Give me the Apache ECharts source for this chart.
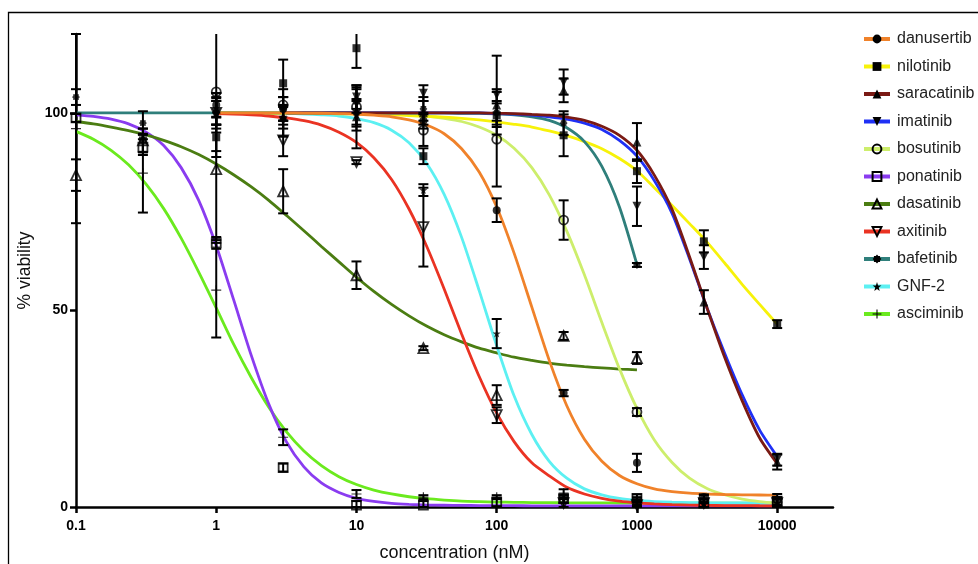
<!DOCTYPE html>
<html>
<head>
<meta charset="utf-8">
<script src="https://cdn.jsdelivr.net/npm/echarts@6/dist/echarts.min.js"></script>
<style>
  html, body { margin: 0; padding: 0; background: #fff; }
  #chart { width: 978px; height: 564px; }
</style>
</head>
<body>
<div id="chart"></div>
<script>
// Tested concentrations (nM)
const concentrations = [0.1, 0.3, 1, 3, 10, 30, 100, 300, 1000, 3000, 10000];

// Mean % viability and SD per drug (null = not tested)
const danusertib   = [null, null, 102, 101, 103, 98, 75.3, 28.9, 11.2, 2.0, 1.8];
const danusertibSD = [null, null, 3, 3, 3, 2, 3, 0.8, 2.3, 1.0, 1.5];
const nilotinib    = [null, 93, 93.8, 107.5, 116.4, 89, 99.4, 94.3, 85.2, 67.4, 46.4];
const nilotinibSD  = [null, 3, 5, 6, 5, 2, 3, 5.3, 3, 2.8, 1];
const saracatinib  = [null, null, 101, 99, 99, 100, 102, 105.7, 92.6, 52, 11.4];
const saracatinibSD= [null, null, 4, 5, 8, 3, 4, 3, 4.8, 3, 1.9];
const imatinib     = [null, null, 100, 98, 104, 105, 104.5, 107.8, 76.3, 63.4, 12];
const imatinibSD   = [null, null, 5, 4, 3, 2, 10, 3.2, 5, 3, 1.5];
const bosutinib    = [null, null, 105.3, 102, 101.5, 95.6, 93.3, 72.8, 24.1, 2.2, 1.2];
const bosutinibSD  = [null, null, 15, 4, 5, 4, 12, 5, 1, 1, 1];
const ponatinib    = [98.7, 91.3, 67, 10, 0.5, 0.5, 1.2, 2.1, 2.2, 1, 1.5];
const ponatinibSD  = [1, 2, 1.5, 1, 1, 1, 1, 1, 1, 1, 1];
const dasatinib    = [84.2, 93, 85.7, 80.1, 58.8, 40.3, 28.4, 43.4, 37.8, null, null];
const dasatinibSD  = [4, 3, 18, 5.6, 3.5, 0.5, 2.5, 1, 1.5, null, null];
const axitinib     = [null, null, 100, 93, 87.5, 71, 23.3, 1, 0.5, 1, 1];
const axitinibSD   = [null, null, 4, 4, 0.5, 10, 2, 1, 1, 1, 1];
const bafetinib    = [104, 97.4, 100, 101, 100, 101, 100, 97.4, 61.4, null, null];
const bafetinibSD  = [2, 3, 3, 3, 3, 3, 3, 3, 0.5, null, null];
const gnf2         = [null, null, 100, 99, 99.5, 80.4, 44, 2, 1, 1, 1];
const gnf2SD       = [null, null, 3, 3, 4, 1.5, 3.7, 1, 1, 1, 1];
const asciminib    = [96, 84.7, 55, 17.7, 3.3, 2.5, 2.5, 3.5, 1.5, null, null];
const asciminibSD  = [24, 10, 12, 2, 1, 0.5, 0.5, 1, 1, null, null];

// Fitted dose-response curves, sampled every eighth of a decade
const curveConc = [0.1, 0.133, 0.178, 0.237, 0.316, 0.422, 0.562, 0.75,
                   1, 1.33, 1.78, 2.37, 3.16, 4.22, 5.62, 7.5,
                   10, 13.3, 17.8, 23.7, 31.6, 42.2, 56.2, 75,
                   100, 133, 178, 237, 316, 422, 562, 750,
                   1000, 1330, 1780, 2370, 3160, 4220, 5620, 7500, 10000];
const danusertibFit  = [null, null, null, null, null, null, null, null,
                        100, 100, 100, 100, 100, 99.95, 99.9, 99.8,
                        99.7, 99.4, 99.0, 98.2, 96.9, 94.7, 90.9, 85.0,
                        76.1, 64.4, 50.7, 37.2, 25.7, 17.2, 11.6, 8.0,
                        5.9, 4.6, 3.9, 3.5, 3.3, 3.17, 3.1, 3.05, 3.0];
const nilotinibFit   = [null, null, null, null, null, null, null, null,
                        100, 100, 99.9, 99.9, 99.9, 99.85, 99.8, 99.75,
                        99.7, 99.6, 99.5, 99.3, 99.1, 98.9, 98.6, 98.2,
                        97.7, 97.1, 96.4, 95.4, 94.2, 92.7, 90.9, 88.4,
                        85.3, 81.0, 76.5, 71.9, 67.2, 61.9, 56.5, 51.4, 46.4];
const saracatinibFit = [null, null, null, null, null, null, null, null,
                        null, null, null, null, 100, 100, 100, 100,
                        100, 100, 100, 100, 100, 100, 100, 100,
                        99.9, 99.8, 99.6, 99.4, 98.9, 98.1, 96.6, 94.3,
                        90.5, 84.2, 75.5, 63.5, 50.5, 38.0, 27.0, 17.5, 11.0];
const imatinibFit    = [null, null, null, null, null, null, null, null,
                        null, null, null, null, 100, 100, 100, 100,
                        100, 100, 100, 100, 100, 100, 100, 100,
                        99.8, 99.65, 99.4, 99.0, 98.4, 97.4, 95.8, 93.0,
                        89.0, 82.8, 74.5, 63.0, 50.5, 39.0, 28.5, 19.5, 12.8];
const bosutinibFit   = [null, null, null, null, null, null, null, null,
                        100, 100, 100, 100, 100, 100, 100, 100,
                        99.9, 99.8, 99.7, 99.5, 99.2, 98.6, 97.8, 96.4,
                        94.3, 91.0, 86.1, 79.2, 70.0, 58.9, 46.8, 35.1,
                        25.0, 17.0, 11.3, 7.3, 4.7, 3.1, 2.0, 1.36, 0.95];
const ponatinibFit   = [99.5, 99.1, 98.4, 97.2, 95.1, 91.7, 86.1, 77.8,
                        66.3, 52.6, 38.4, 26.1, 16.6, 10.2, 6.1, 3.7,
                        2.2, 1.4, 0.9, 0.65, 0.5, 0.45, 0.4, 0.37,
                        0.35, 0.33, 0.3, 0.3, 0.3, 0.3, 0.3, 0.3,
                        0.3, 0.3, 0.3, 0.3, 0.3, 0.3, 0.3, 0.3, 0.3];
const dasatinibFit   = [97.8, 97.2, 96.4, 95.5, 94.4, 93.0, 91.4, 89.4,
                        87.0, 84.3, 81.2, 77.8, 74.0, 70.1, 66.1, 62.2,
                        58.3, 54.7, 51.4, 48.5, 45.9, 43.7, 41.9, 40.3,
                        39.1, 38.0, 37.2, 36.5, 36.0, 35.6, 35.3, 35.0,
                        34.8, null, null, null, null, null, null, null, null];
const axitinibFit    = [null, null, null, null, null, null, null, null,
                        99.8, 99.7, 99.5, 99.2, 98.7, 98.0, 96.9, 95.1,
                        92.5, 88.6, 83.1, 75.6, 66.2, 55.3, 43.9, 33.1,
                        23.8, 16.6, 11.2, 7.9, 5.0, 3.3, 2.2, 1.5,
                        1.07, 0.79, 0.6, 0.5, 0.4, 0.37, 0.35, 0.32, 0.3];
const bafetinibFit   = [100, 100, 100, 100, 100, 100, 100, 100,
                        100, 100, 100, 100, 100, 100, 100, 100,
                        100, 100, 100, 100, 100, 100, 99.9, 99.9,
                        99.75, 99.5, 99.0, 98.1, 96.2, 92.7, 86.4, 76.1,
                        61.5, null, null, null, null, null, null, null, null];
const gnf2Fit        = [null, null, null, null, null, null, null, null,
                        100, 100, 99.95, 99.9, 99.85, 99.7, 99.5, 99.2,
                        98.5, 97.5, 95.6, 92.4, 87.2, 79.3, 68.4, 54.9,
                        40.9, 28.2, 18.4, 11.6, 7.3, 4.6, 3.1, 2.17,
                        1.66, 1.37, 1.2, 1.12, 1.07, 1.04, 1.02, 1.01, 1.0];
const asciminibFit   = [95.3, 93.3, 90.5, 86.8, 81.9, 75.7, 68.2, 59.6,
                        50.5, 41.3, 32.8, 25.3, 19.1, 14.2, 10.5, 7.7,
                        5.7, 4.3, 3.3, 2.6, 2.1, 1.76, 1.5, 1.36,
                        1.25, 1.18, 1.12, 1.09, 1.06, 1.04, 1.03, 1.02,
                        1.01, 1.0, 1.0, 1.0, 1.0, 1.0, 1.0, 1.0, 1.0];

// Axis ranges and tick values
const X_MIN = 0.1, X_MAX = 25000;
const Y_MIN = 0, Y_MAX = 120;
const xTicks = [0.1, 1, 10, 100, 1000, 10000];
const yTicks = [0, 50, 100];

// Marker glyphs
const STAR8 = 'path://M20 10L16.93 12.87L17.07 17.07L12.87 16.93L10 20L7.13 16.93L2.93 17.07L3.07 12.87L0 10L3.07 7.13L2.93 2.93L7.13 3.07L10 0L12.87 3.07L17.07 2.93L16.93 7.13Z';
const STAR5 = 'path://M10 0L12.35 6.76L19.51 6.91L13.8 11.24L15.88 18.09L10 14L4.12 18.09L6.2 11.24L0.49 6.91L7.65 6.76Z';
const PLUS  = 'path://M8.8 0H11.2V8.8H20V11.2H11.2V20H8.8V11.2H0V8.8H8.8Z';

// Drugs in legend order, with their styles
const drugs = [
  { name: 'danusertib',  mean: danusertib,  sd: danusertibSD,  fit: danusertibFit,  color: '#F0822A', symbol: 'circle',   open: false, size: 8 },
  { name: 'nilotinib',   mean: nilotinib,   sd: nilotinibSD,   fit: nilotinibFit,   color: '#F7F20A', symbol: 'rect',     open: false, size: 8 },
  { name: 'saracatinib', mean: saracatinib, sd: saracatinibSD, fit: saracatinibFit, color: '#7A1A14', symbol: 'triangle', open: false, size: 9 },
  { name: 'imatinib',    mean: imatinib,    sd: imatinibSD,    fit: imatinibFit,    color: '#1F30F5', symbol: 'triangle', open: false, size: 9, rotate: 180 },
  { name: 'bosutinib',   mean: bosutinib,   sd: bosutinibSD,   fit: bosutinibFit,   color: '#CDEE6C', symbol: 'circle',   open: true,  size: 9 },
  { name: 'ponatinib',   mean: ponatinib,   sd: ponatinibSD,   fit: ponatinibFit,   color: '#8A3CF0', symbol: 'rect',     open: true,  size: 9 },
  { name: 'dasatinib',   mean: dasatinib,   sd: dasatinibSD,   fit: dasatinibFit,   color: '#4B7D12', symbol: 'triangle', open: true,  size: 10 },
  { name: 'axitinib',    mean: axitinib,    sd: axitinibSD,    fit: axitinibFit,    color: '#EA3323', symbol: 'triangle', open: true,  size: 10, rotate: 180 },
  { name: 'bafetinib',   mean: bafetinib,   sd: bafetinibSD,   fit: bafetinibFit,   color: '#2F7F7B', symbol: STAR8,      open: false, size: 8 },
  { name: 'GNF-2',       mean: gnf2,        sd: gnf2SD,        fit: gnf2Fit,        color: '#5CF0F2', symbol: STAR5,      open: false, size: 8 },
  { name: 'asciminib',   mean: asciminib,   sd: asciminibSD,   fit: asciminibFit,   color: '#6BEA1E', symbol: PLUS,       open: false, size: 10 }
];

// Stacking order of the fitted curves (first is drawn underneath)
const curveOrder = ['asciminib', 'ponatinib', 'dasatinib', 'GNF-2', 'bosutinib', 'nilotinib',
                    'bafetinib', 'imatinib', 'saracatinib', 'axitinib', 'danusertib'];

function markerStyle(d) {
  return d.open
    ? { color: 'rgba(255,255,255,0)', borderColor: '#000', borderWidth: 1.8 }
    : { color: '#000', borderWidth: 0 };
}

function pairs(xs, ys) {
  const out = [];
  for (let i = 0; i < xs.length; i++) if (ys[i] != null) out.push([xs[i], ys[i]]);
  return out;
}

function errorTriples(d) {
  const out = [];
  for (let i = 0; i < concentrations.length; i++) {
    if (d.mean[i] != null && d.sd[i] != null) out.push([concentrations[i], d.mean[i], d.sd[i]]);
  }
  return out;
}

// Vertical SD bar with caps; the ends are held inside the value range
function renderErrorBar(params, api) {
  const x = api.value(0), m = api.value(1), e = api.value(2);
  const upper = Math.min(m + e, Y_MAX);
  const lower = Math.max(m - e, Y_MIN);
  const hi = api.coord([x, upper]);
  const lo = api.coord([x, lower]);
  const cap = 5;
  const st = { stroke: '#000', lineWidth: 2 };
  const parts = [
    { type: 'line', shape: { x1: hi[0], y1: hi[1], x2: lo[0], y2: lo[1] }, style: st },
    { type: 'line', shape: { x1: lo[0] - cap, y1: lo[1], x2: lo[0] + cap, y2: lo[1] }, style: st }
  ];
  if (m + e <= Y_MAX) {
    parts.push({ type: 'line', shape: { x1: hi[0] - cap, y1: hi[1], x2: hi[0] + cap, y2: hi[1] }, style: st });
  }
  return { type: 'group', children: parts };
}

const series = [];
// fitted curves (these also carry the legend icons)
curveOrder.forEach(function (n) {
  const d = drugs.find(function (q) { return q.name === n; });
  series.push({
    name: d.name,
    type: 'line',
    data: pairs(curveConc, d.fit),
    smooth: 0.25,
    showSymbol: false,
    symbol: d.symbol,
    symbolRotate: d.rotate || 0,
    lineStyle: { color: d.color, width: 2.8 },
    itemStyle: markerStyle(d),
    z: 2,
    silent: true
  });
});
// error bars
drugs.forEach(function (d) {
  series.push({
    name: d.name,
    type: 'custom',
    renderItem: renderErrorBar,
    data: errorTriples(d),
    encode: { x: 0, y: 1 },
    clip: false,
    z: 3,
    silent: true
  });
});
// data points
drugs.forEach(function (d) {
  series.push({
    name: d.name,
    type: 'scatter',
    data: pairs(concentrations, d.mean),
    symbol: d.symbol,
    symbolRotate: d.rotate || 0,
    symbolSize: d.size,
    itemStyle: markerStyle(d),
    clip: false,
    z: 4,
    silent: true
  });
});

const chart = echarts.init(document.getElementById('chart'), null, { renderer: 'canvas' });
chart.setOption({
  animation: false,
  backgroundColor: '#fff',
  textStyle: { fontFamily: 'Liberation Sans, Arial, sans-serif' },
  graphic: [{
    type: 'rect',
    shape: { x: 8.5, y: 12.5, width: 1200, height: 800 },
    style: { fill: null, stroke: '#000', lineWidth: 1.3 },
    silent: true, z: 0
  }],
  grid: { left: 76, right: 145, top: 34, bottom: 57, containLabel: false, outerBoundsMode: 'none' },
  legend: {
    orient: 'vertical',
    left: 862,
    top: 31,
    padding: 0,
    itemWidth: 26,
    itemHeight: 11,
    itemGap: 11.5,
    data: drugs.map(function (d) { return d.name; }),
    lineStyle: { width: 4 },
    textStyle: { fontSize: 16, lineHeight: 16, color: '#222', padding: [0, 0, 0, 2],
                 fontFamily: 'Liberation Sans, Arial, sans-serif' },
    selectedMode: false
  },
  xAxis: {
    type: 'log',
    logBase: 10,
    min: X_MIN,
    max: X_MAX,
    name: 'concentration (nM)',
    nameLocation: 'middle',
    nameGap: 37,
    nameTextStyle: { fontSize: 18, color: '#111' },
    axisLine: { lineStyle: { color: '#000', width: 2.5 } },
    axisTick: { show: true, length: 6, lineStyle: { color: '#000', width: 2.5 }, customValues: xTicks },
    axisLabel: { customValues: xTicks, fontSize: 14, fontWeight: 'bold', color: '#000', margin: 12,
                 formatter: function (v) { return String(v); } },
    minorTick: { show: false },
    splitLine: { show: false }
  },
  yAxis: {
    type: 'value',
    min: Y_MIN,
    max: Y_MAX,
    interval: 50,
    name: '% viability',
    nameLocation: 'middle',
    nameGap: 33,
    nameTextStyle: { fontSize: 17.5, color: '#111' },
    axisLine: { show: true, lineStyle: { color: '#000', width: 2.5 } },
    axisTick: { show: true, length: 6, lineStyle: { color: '#000', width: 2.5 }, customValues: yTicks },
    axisLabel: { customValues: yTicks, fontSize: 14, fontWeight: 'bold', color: '#000', margin: 8 },
    splitLine: { show: false }
  },
  series: series
});
</script>
</body>
</html>
